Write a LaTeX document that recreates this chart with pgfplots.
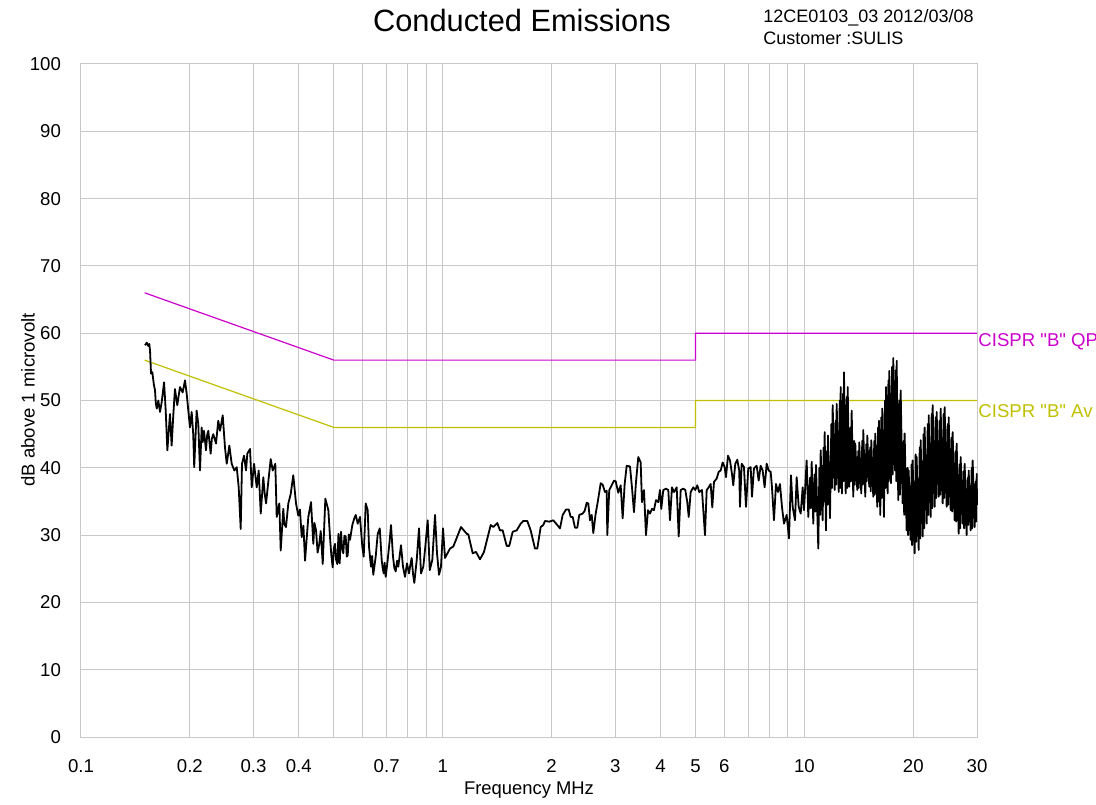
\documentclass[border=0pt]{standalone}
\usepackage{fontspec}
\setmainfont{Liberation Sans}[Ligatures=TeXOff]
\usepackage{pgfplots}
\pgfplotsset{compat=1.18}
\definecolor{qpcol}{RGB}{204,0,204}
\definecolor{avcol}{RGB}{192,192,0}
\definecolor{gridcol}{RGB}{200,200,200}

% measured trace: frequency (MHz), level (dBuV)
\pgfplotstableread{
f dB
0.1503 58.2
0.1520 58.6
0.1535 58.1
0.1545 58.4
0.1552 57.4
0.1562 54.0
0.1575 54.2
0.1590 52.4
0.1602 51.5
0.1610 49.6
0.1620 48.8
0.1636 50.0
0.1654 48.3
0.1672 49.8
0.1697 52.7
0.1715 48.5
0.1733 42.6
0.1762 48.0
0.1781 43.3
0.1800 47.9
0.1819 51.7
0.1846 49.3
0.1878 52.0
0.1910 51.2
0.1939 53.0
0.1960 51.0
0.2001 46.0
0.2023 48.3
0.2043 45.0
0.2056 40.1
0.2088 48.5
0.2110 46.5
0.2133 39.6
0.2156 46.0
0.2170 43.8
0.2188 45.5
0.2216 42.6
0.2233 44.9
0.2249 45.5
0.2283 42.1
0.2300 44.3
0.2321 45.0
0.2362 43.6
0.2396 47.0
0.2423 45.5
0.2465 47.8
0.2501 43.0
0.2529 40.6
0.2571 43.3
0.2610 40.6
0.2654 39.6
0.2695 40.1
0.2729 37.1
0.2764 30.9
0.2787 40.6
0.2823 41.8
0.2859 39.6
0.2883 42.1
0.2933 42.8
0.2965 37.1
0.3009 40.6
0.3061 37.1
0.3100 39.6
0.3140 33.2
0.3192 38.6
0.3220 36.2
0.3248 34.7
0.3305 38.6
0.3346 41.3
0.3389 39.6
0.3445 40.6
0.3476 32.7
0.3534 34.7
0.3566 27.7
0.3625 33.9
0.3650 31.6
0.3688 31.2
0.3743 34.7
0.3800 36.1
0.3863 38.9
0.3931 34.7
0.3988 32.9
0.4030 33.8
0.4076 29.7
0.4120 31.4
0.4163 26.2
0.4251 32.7
0.4325 34.9
0.4388 28.7
0.4420 31.8
0.4465 30.7
0.4510 27.4
0.4558 28.7
0.4600 30.6
0.4659 25.7
0.4737 35.4
0.4829 33.7
0.4880 29.7
0.4920 27.1
0.4964 25.2
0.5000 28.0
0.5038 28.7
0.5070 26.4
0.5112 25.7
0.5150 30.2
0.5190 25.8
0.5234 30.5
0.5270 28.1
0.5311 27.3
0.5350 29.9
0.5393 29.8
0.5430 26.8
0.5463 27.0
0.5500 30.1
0.5543 29.3
0.5625 31.5
0.5697 32.5
0.5748 33.0
0.5822 31.7
0.5907 32.7
0.5994 28.3
0.6048 26.8
0.6126 34.7
0.6204 33.7
0.6255 28.3
0.6335 25.3
0.6380 26.9
0.6428 24.1
0.6528 26.8
0.6612 30.2
0.6699 31.0
0.6782 26.3
0.6820 25.2
0.6869 24.3
0.6910 25.9
0.6957 23.8
0.7046 26.3
0.7139 29.3
0.7196 31.5
0.7288 26.8
0.7350 25.1
0.7415 24.6
0.7480 26.2
0.7538 25.3
0.7669 28.5
0.7767 25.3
0.7820 24.5
0.7867 23.8
0.7967 25.8
0.8070 24.3
0.8140 25.6
0.8209 26.6
0.8280 24.2
0.8347 22.9
0.8475 26.3
0.8600 31.0
0.8709 24.3
0.8838 25.3
0.8934 27.8
0.9089 32.2
0.9209 24.8
0.9360 26.3
0.9522 33.0
0.9644 27.3
0.9767 24.1
0.9892 25.3
1.0019 31.0
1.0147 26.6
1.0475 28.0
1.0697 28.3
1.1235 31.2
1.1651 30.2
1.1770 30.1
1.2103 27.3
1.2361 27.5
1.2679 26.4
1.3006 27.5
1.3573 31.5
1.3799 31.2
1.4155 31.8
1.4400 30.7
1.4649 30.7
1.5028 28.4
1.5276 28.4
1.5613 30.5
1.6016 30.7
1.6429 31.7
1.6702 32.1
1.7133 32.1
1.7508 30.7
1.7995 28.0
1.8260 28.0
1.8660 31.2
1.8970 31.5
1.9178 32.1
1.9709 32.0
2.0216 32.2
2.0738 31.5
2.1098 31.0
2.1463 33.0
2.1921 33.8
2.2303 33.8
2.2585 32.7
2.2873 32.7
2.3213 31.1
2.3554 31.1
2.3851 33.0
2.4377 33.2
2.4688 33.6
2.5007 34.8
2.5263 34.7
2.5537 32.2
2.5815 33.0
2.6078 30.3
2.6482 33.2
2.6822 34.9
2.7337 37.7
2.7686 37.5
2.8097 36.4
2.8402 36.6
2.8511 30.0
2.8870 36.7
2.9320 37.4
2.9752 38.1
3.0077 38.0
3.0579 36.3
3.1049 37.4
3.1445 32.5
3.1847 37.6
3.2258 40.3
3.2942 40.2
3.3364 37.1
3.3792 33.4
3.4227 37.9
3.4731 41.6
3.5265 40.8
3.5556 34.9
3.6013 36.7
3.6476 30.0
3.6943 33.7
3.7414 33.2
3.7893 33.9
3.8379 33.7
3.8873 35.2
3.9446 34.9
3.9873 36.7
4.0204 33.9
4.0718 36.7
4.1428 36.9
4.2038 36.7
4.2493 32.2
4.3037 37.1
4.3589 36.4
4.4346 37.1
4.4920 29.8
4.5490 36.7
4.6246 36.9
4.6844 36.7
4.7442 34.9
4.7872 32.7
4.8480 36.4
4.9286 37.1
4.9923 36.7
5.0560 37.4
5.1198 36.4
5.2093 36.7
5.3101 30.0
5.3678 36.7
5.4372 37.1
5.5062 37.6
5.5626 34.1
5.6229 37.9
5.7205 38.4
5.7945 39.4
5.8681 39.6
5.9429 40.8
6.0188 40.1
6.0696 38.6
6.1473 41.8
6.2257 41.1
6.3054 39.1
6.3577 37.4
6.4399 40.6
6.5221 41.2
6.6042 39.6
6.6349 34.2
6.7072 40.6
6.8061 40.1
6.8937 34.2
6.9952 39.9
7.1027 40.1
7.1614 35.7
7.2533 39.9
7.3792 40.3
7.4747 38.1
7.5696 40.3
7.6661 39.6
7.7640 37.1
7.8643 40.6
7.9660 39.6
8.0670 39.4
8.1337 37.1
8.2381 32.2
8.3441 37.6
8.4509 36.4
8.5588 37.6
8.6684 34.2
8.7796 31.7
8.9320 33.0
9.0638 29.5
9.1797 38.9
9.2791 34.2
9.4168 32.2
9.5190 38.6
9.6421 34.2
9.7644 33.2
9.8889 37.1
9.9715 33.7
10.144 41.1
10.249 32.7
10.36 38.5
10.41 34.0
10.473 40.9
10.580 31.7
10.67 39.0
10.72 33.5
10.764 40.4
10.923 28.0
11.00 40.0
11.05 33.0
11.090 42.6
11.231 32.2
11.30 43.0
11.34 35.0
11.375 45.3
11.471 30.7
11.54 42.5
11.58 34.5
11.617 44.8
11.766 32.5
11.87 46.5
11.92 37.0
11.970 49.3
12.123 36.7
12.20 47.0
12.24 37.5
12.279 49.5
12.438 36.4
12.52 50.0
12.56 37.0
12.595 52.0
12.700 36.2
12.78 51.0
12.82 38.0
12.862 54.2
13.003 36.2
13.09 50.5
13.13 37.0
13.170 52.0
13.304 37.2
13.40 46.0
13.45 38.0
13.509 48.5
13.646 35.7
13.73 44.0
13.78 37.5
13.823 43.6
13.999 36.7
14.09 42.5
14.13 37.0
14.176 43.8
14.359 36.2
14.45 44.0
14.50 37.5
14.543 45.6
14.731 35.7
14.83 43.5
14.87 38.0
14.919 44.8
15.107 37.2
15.20 43.0
15.25 36.5
15.303 44.1
15.499 35.7
15.60 44.0
15.65 36.0
15.699 45.1
15.899 34.2
15.98 46.0
16.03 35.0
16.072 47.0
16.206 33.0
16.31 47.5
16.36 35.5
16.414 48.8
16.592 32.7
16.70 50.0
16.75 37.0
16.806 52.0
16.989 36.2
17.07 53.0
17.11 38.0
17.162 54.4
17.348 37.7
17.47 55.0
17.53 39.0
17.603 56.3
17.797 39.6
17.89 54.5
17.94 38.0
17.990 55.9
18.174 35.2
18.31 50.0
18.38 36.0
18.454 51.5
18.689 34.7
18.81 44.0
18.87 33.0
18.928 45.1
19.172 30.7
19.29 40.0
19.35 30.0
19.420 39.6
19.666 29.3
19.79 40.5
19.85 28.5
19.917 41.1
20.171 27.3
20.30 42.0
20.37 29.0
20.432 41.6
20.696 27.8
20.83 43.0
20.90 29.5
20.959 44.1
21.226 29.8
21.36 45.0
21.43 31.0
21.497 46.0
21.775 31.7
21.92 46.5
21.99 33.0
22.056 47.8
22.336 32.7
22.48 48.0
22.55 34.0
22.621 49.3
22.910 34.2
23.06 47.5
23.13 35.5
23.206 48.3
23.506 35.7
23.65 47.0
23.73 36.0
23.804 48.8
24.107 34.7
24.26 48.0
24.34 35.5
24.415 49.0
24.730 34.2
24.89 46.5
24.97 34.5
25.050 47.5
25.369 33.7
25.53 44.5
25.61 33.5
25.692 45.3
26.020 32.2
26.19 42.5
26.27 32.0
26.356 43.6
26.697 30.2
26.87 40.5
26.95 31.0
27.036 41.6
27.381 31.7
27.55 39.5
27.64 31.0
27.731 40.6
28.088 30.0
28.27 38.5
28.36 31.5
28.452 39.6
28.813 30.7
29.00 40.0
29.09 31.0
29.180 41.1
29.553 31.2
29.75 38.0
29.84 32.0
29.940 39.1
30.000 34.5
}\trace

\begin{document}
\begin{tikzpicture}
\begin{axis}[
  name=ax, at={(0,0)}, anchor=south west,
  scale only axis, width=448pt, height=336.5pt,
  xmode=log, xmin=0.1, xmax=30, ymin=0, ymax=100,
  xtick={0.1,0.2,0.3,0.4,0.7,1,2,3,4,5,6,10,20,30},
  xticklabels={0.1,0.2,0.3,0.4,0.7,1,2,3,4,5,6,10,20,30},
  minor xtick={0.5,0.6,0.8,0.9,7,8,9},
  ytick={0,10,...,100},
  /pgf/number format/assume math mode=true,
  grid=both, grid style={draw=gridcol, line width=0.5pt},
  minor grid style={draw=gridcol, line width=0.5pt},
  major tick length=0pt, minor tick length=0pt,
  axis line style={draw=gridcol, line width=0.5pt},
  tick label style={font=\fontsize{9.3}{11}\selectfont, text=black},
  xticklabel style={anchor=center, yshift=-14.5pt},
  yticklabel style={anchor=east, xshift=-6.5pt},
  clip=false,
]
\addplot[qpcol, line width=0.6pt] coordinates {(0.15,66) (0.5,56) (5,56) (5,60) (30,60)};
\addplot[avcol, line width=0.6pt] coordinates {(0.15,56) (0.5,46) (5,46) (5,50) (30,50)};
\addplot[black, line width=0.9pt, line join=round] table[x=f, y=dB] {\trace};
\node[anchor=west, text=qpcol, font=\fontsize{9.3}{11}\selectfont, inner sep=0.5pt] at (axis cs:30,58.7) {CISPR "B" QP};
\node[anchor=west, text=avcol, font=\fontsize{9.3}{11}\selectfont, inner sep=0.5pt] at (axis cs:30,48.4) {CISPR "B" Av};
\end{axis}
\node[font=\fontsize{15.4}{18}\selectfont] at (220.5pt,358.5pt) {Conducted Emissions};
\node[anchor=west, font=\fontsize{9}{11}\selectfont, inner sep=0pt] at (341pt,359.5pt) {12CE0103\_03 2012/03/08};
\node[anchor=west, font=\fontsize{9}{11}\selectfont, inner sep=0pt] at (341pt,349.5pt) {Customer :SULIS};
\node[font=\fontsize{9.2}{11}\selectfont] at (224pt,-26.5pt) {Frequency MHz};
\node[rotate=90, font=\fontsize{9.3}{11}\selectfont] at (-26.5pt,168.5pt) {dB above 1 microvolt};
\pgfresetboundingbox
\useasboundingbox (-40.5pt,-33.5pt) rectangle (507.5pt,368.5pt);
\end{tikzpicture}
\end{document}
